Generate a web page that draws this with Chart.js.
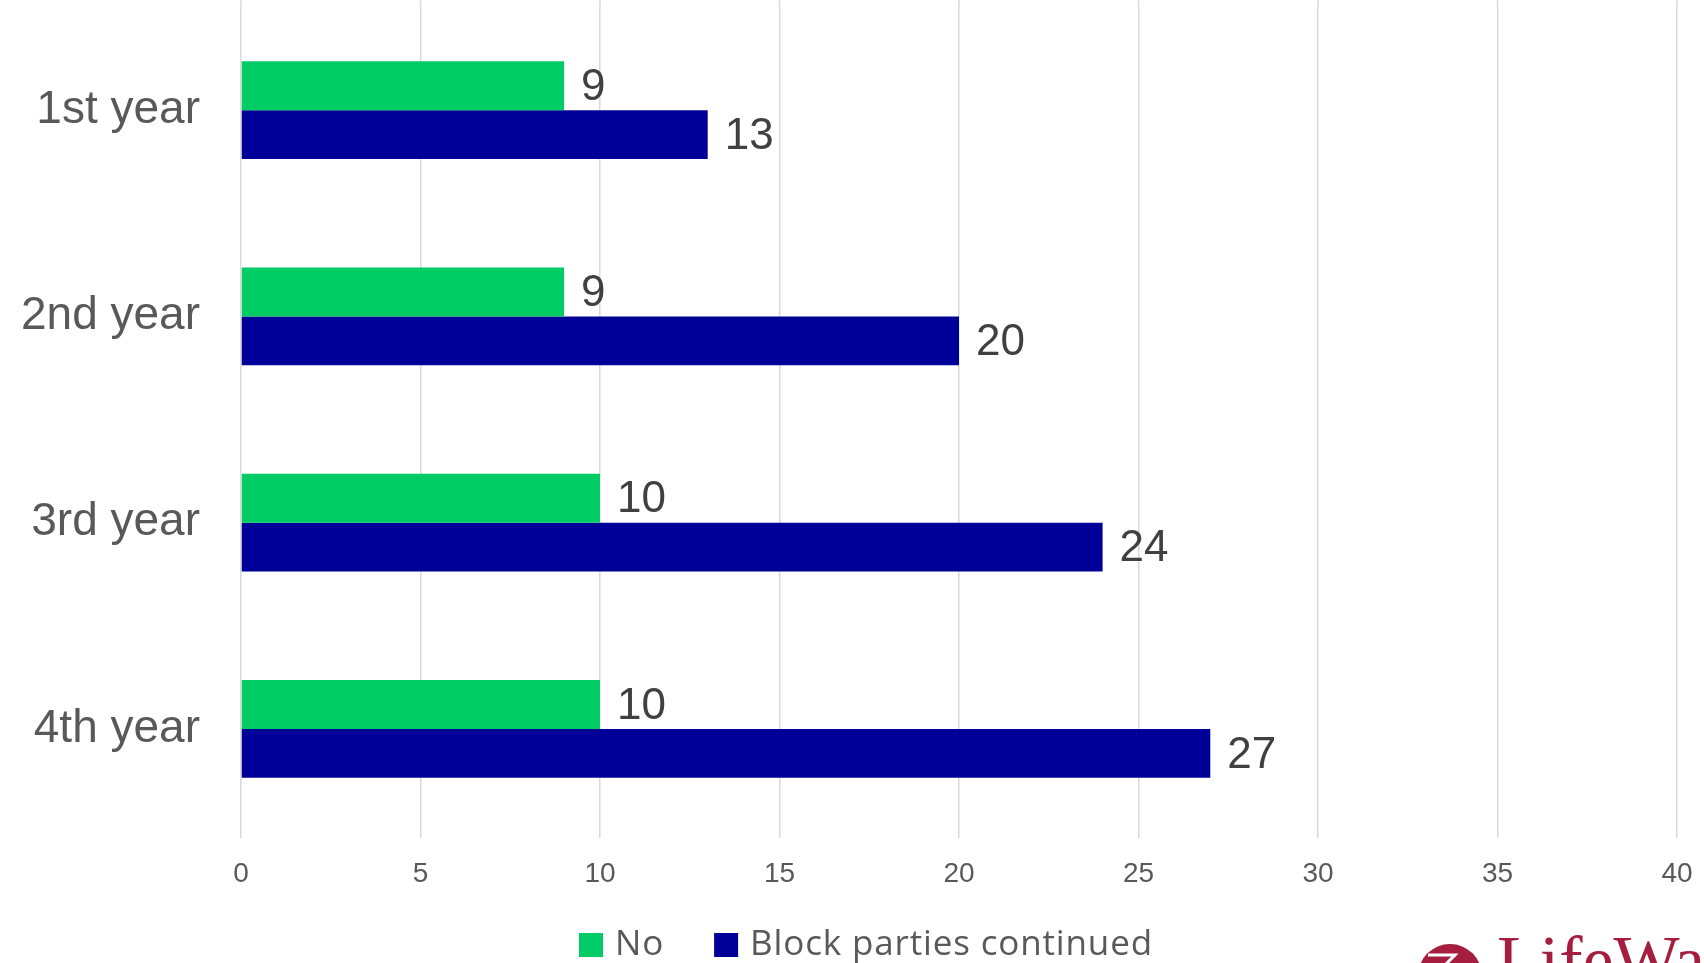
<!DOCTYPE html>
<html>
<head>
<meta charset="utf-8">
<script src="https://cdn.jsdelivr.net/npm/chart.js@4"></script>
<style>
  html, body { margin: 0; padding: 0; background: #ffffff; overflow: hidden; }
  #wrap { position: absolute; left: 0; top: 0; width: 1704px; height: 1013px; }
</style>
</head>
<body>
<div id="wrap"><canvas id="c" width="1704" height="1013"></canvas></div>
<script>
const categories = ["1st year", "2nd year", "3rd year", "4th year"];
const seriesNames = ["No", "Block parties continued"];
const noValues = [9, 9, 10, 10];
const continuedValues = [13, 20, 24, 27];
const xTicks = [0, 5, 10, 15, 20, 25, 30, 35, 40];
const seriesColors = ["#00cc66", "#000099"];

// extends the vertical gridlines up to the top edge, as in the original
const gridExtend = {
  id: 'gridExtend',
  beforeDatasetsDraw(chart) {
    const ctx = chart.ctx, xs = chart.scales.x;
    ctx.save();
    ctx.strokeStyle = '#d9d9d9';
    ctx.lineWidth = 1.5;
    xs.ticks.forEach(t => {
      const px = xs.getPixelForValue(t.value);
      ctx.beginPath();
      ctx.moveTo(px, 0);
      ctx.lineTo(px, chart.chartArea.top);
      ctx.stroke();
    });
    ctx.restore();
  }
};

const valueLabels = {
  id: 'valueLabels',
  afterDatasetsDraw(chart) {
    const ctx = chart.ctx;
    ctx.save();
    ctx.font = '44px "Liberation Sans", Arial, sans-serif';
    ctx.fillStyle = '#404040';
    ctx.textAlign = 'left';
    ctx.textBaseline = 'middle';
    chart.data.datasets.forEach((ds, i) => {
      const meta = chart.getDatasetMeta(i);
      meta.data.forEach((bar, j) => {
        ctx.fillText(String(ds.data[j]), bar.x + 17, bar.y + 2);
      });
    });
    ctx.restore();
  }
};

const customLegend = {
  id: 'customLegend',
  afterDraw(chart) {
    const ctx = chart.ctx;
    ctx.save();
    ctx.font = '35px "Open Sans", sans-serif';
    try { ctx.letterSpacing = '0.85px'; } catch (e) {}
    ctx.textBaseline = 'middle';
    ctx.textAlign = 'left';
    const box = 24, gapText = 12, gapItem = 50;
    const items = chart.data.datasets.map(ds => ({ text: ds.label, color: ds.backgroundColor, w: ctx.measureText(ds.label).width }));
    let x = 579;
    const cy = 945;
    items.forEach(it => {
      ctx.fillStyle = it.color;
      ctx.fillRect(x, cy - box / 2, box, box);
      ctx.fillStyle = '#595959';
      ctx.fillText(it.text, x + box + gapText, cy);
      x += box + gapText + it.w + gapItem;
    });
    ctx.restore();
  }
};

const logo = {
  id: 'logo',
  afterDraw(chart) {
    const ctx = chart.ctx;
    ctx.save();
    ctx.fillStyle = '#a61e3f';
    ctx.beginPath();
    ctx.arc(1450, 976, 32, 0, Math.PI * 2);
    ctx.fill();
    ctx.strokeStyle = '#ffffff';
    ctx.lineWidth = 3;
    ctx.beginPath();
    ctx.moveTo(1428, 955); ctx.lineTo(1455, 955); ctx.lineTo(1440, 970);
    ctx.stroke();
    ctx.font = '70px "Liberation Serif", "Times New Roman", serif';
    ctx.textBaseline = 'alphabetic';
    ctx.textAlign = 'left';
    ctx.fillStyle = '#a61e3f';
    ctx.fillText('LifeWay', 1497, 984);
    ctx.restore();
  }
};

new Chart(document.getElementById('c'), {
  type: 'bar',
  data: {
    labels: categories,
    datasets: [
      { label: seriesNames[0], data: noValues, backgroundColor: seriesColors[0], borderWidth: 0,
        categoryPercentage: 0.475, barPercentage: 1.0 },
      { label: seriesNames[1], data: continuedValues, backgroundColor: seriesColors[1], borderWidth: 0,
        categoryPercentage: 0.475, barPercentage: 1.0 }
    ]
  },
  options: {
    indexAxis: 'y',
    responsive: false,
    animation: false,
    events: [],
    layout: { padding: { left: 0, right: 27, top: 7, bottom: 111 } },
    scales: {
      x: {
        min: 0, max: 40,
        afterBuildTicks(scale) { scale.ticks = xTicks.map(v => ({ value: v })); },
        grid: { color: '#d9d9d9', lineWidth: 1.5, tickLength: 6, tickColor: '#d9d9d9', drawTicks: true },
        border: { display: false },
        ticks: {
          padding: 19,
          color: '#595959',
          font: { family: '"Liberation Sans", Arial, sans-serif', size: 28 },
          maxRotation: 0
        },
        afterFit(scale) { scale.height = 70; scale.paddingLeft = 0; scale.paddingRight = 0; }
      },
      y: {
        grid: { display: false, drawTicks: false },
        border: { display: false },
        ticks: {
          padding: 41,
          color: '#595959',
          font: { family: '"Liberation Sans", Arial, sans-serif', size: 46 }
        },
        afterFit(scale) { scale.width = 241; scale.paddingTop = 0; scale.paddingBottom = 0; }
      }
    },
    plugins: {
      title: { display: false },
      tooltip: { enabled: false },
      legend: { display: false }
    }
  },
  plugins: [gridExtend, valueLabels, customLegend, logo]
});
</script>
</body>
</html>
